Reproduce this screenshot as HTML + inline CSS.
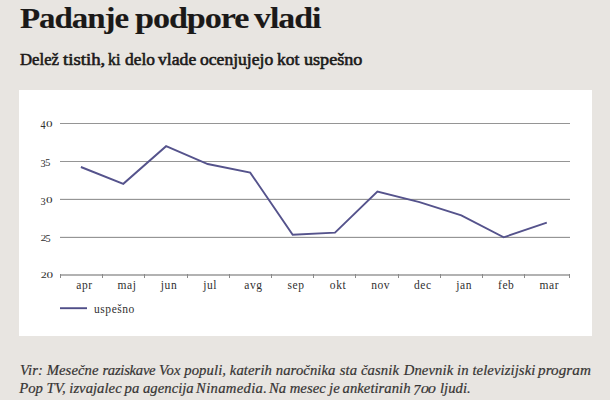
<!DOCTYPE html>
<html lang="sl">
<head>
<meta charset="utf-8">
<title>Padanje podpore vladi</title>
<style>
  html, body { margin: 0; padding: 0; }
  body {
    width: 610px; height: 400px; overflow: hidden; position: relative;
    background: #e8e5e1;
    font-family: "Liberation Serif", "DejaVu Serif", serif;
    color: #1c1a1a;
  }
  .t { position: absolute; white-space: nowrap; line-height: 1; margin: 0; }
  h1 { margin: 0; font-size: 32px; font-weight: 700; color: #1b1918; }
  h1 span { position: absolute; top: 0.8px; letter-spacing: -1px; line-height: 1; white-space: nowrap; transform-origin: 0 26.8px; -webkit-text-stroke: 0.15px #1b1918; }
  h2 { margin: 0; font-size: 17.5px; font-weight: 400; color: #1b1918; }
  h2 span { position: absolute; top: 51px; line-height: 1; white-space: nowrap; transform-origin: 0 14.6px; -webkit-text-stroke: 0.6px #1b1918; }
  .panel { position: absolute; left: 19px; top: 90px; width: 573px; height: 246px; background: #fff; }
  .foot { position: absolute; left: 20px; line-height: 1; white-space: nowrap; font-size: 14.7px; font-style: italic; color: #363433; -webkit-text-stroke: 0.2px #363433; }
  .os7 { position: relative; top: 1.8px; }
  .os0 { display: inline-block; transform: scale(1.08, 0.74); transform-origin: 50% 83.75%; }
  svg { position: absolute; left: 0; top: 0; }
  svg text { font-family: "Liberation Serif", "DejaVu Serif", serif; fill: #303030; }
</style>
</head>
<body>
<h1><span style="left:20.1px; transform:scale(1.03,0.92)">Padanje</span> <span style="left:134.8px; transform:scale(1.067,0.92)">podpore</span> <span style="left:254.3px; transform:scale(1.059,0.92)">vladi</span></h1>
<h2><span style="left:20.20px; transform:scale(0.956,0.9)">Delež</span> <span style="left:63.00px; transform:scale(1.072,0.9)">tistih,</span> <span style="left:107.90px; transform:scale(0.921,0.9)">ki</span> <span style="left:125.00px; transform:scale(0.993,0.9)">delo</span> <span style="left:157.50px; transform:scale(1.011,0.9)">vlade</span> <span style="left:199.50px; transform:scale(1.004,0.9)">ocenjujejo</span> <span style="left:276.80px; transform:scale(1.004,0.9)">kot</span> <span style="left:303.50px; transform:scale(1.036,0.9)">uspešno</span></h2>
<div class="panel"></div>
<svg width="610" height="400" viewBox="0 0 610 400">
  <g fill="#ededed">
    <rect x="60" y="198" width="510" height="1"/>
    <rect x="60" y="236" width="510" height="1"/>
  </g>
  <g fill="#959595">
    <rect x="60" y="123" width="510" height="1"/>
    <rect x="60" y="161" width="510" height="1"/>
    <rect x="60" y="199" width="510" height="1"/>
    <rect x="60" y="237" width="510" height="1"/>
  </g>
  <rect x="60" y="274" width="510" height="2" fill="#b2b2b2"/>
  <g stroke="#8a8a8a" stroke-width="1" shape-rendering="crispEdges">
    <line x1="60.5" y1="274" x2="60.5" y2="278"/>
    <line x1="102.5" y1="274" x2="102.5" y2="278"/>
    <line x1="144.5" y1="274" x2="144.5" y2="278"/>
    <line x1="187.5" y1="274" x2="187.5" y2="278"/>
    <line x1="229.5" y1="274" x2="229.5" y2="278"/>
    <line x1="271.5" y1="274" x2="271.5" y2="278"/>
    <line x1="313.5" y1="274" x2="313.5" y2="278"/>
    <line x1="355.5" y1="274" x2="355.5" y2="278"/>
    <line x1="398.5" y1="274" x2="398.5" y2="278"/>
    <line x1="440.5" y1="274" x2="440.5" y2="278"/>
    <line x1="482.5" y1="274" x2="482.5" y2="278"/>
    <line x1="524.5" y1="274" x2="524.5" y2="278"/>
    <line x1="569.5" y1="274" x2="569.5" y2="278"/>
  </g>
  <polyline fill="none" stroke="#55538c" stroke-width="1.9" stroke-linejoin="miter" points="80.9,167.0 123.3,183.8 166.1,146.2 207.7,164.0 250.2,172.6 292.7,234.8 335.0,232.6 377.4,191.5 419.5,202.1 461.3,215.4 503.7,237.3 546.8,222.6"/>
  <line x1="60" y1="308.2" x2="87" y2="308.2" stroke="#4f4e88" stroke-width="1.9"/>
  <g font-size="12">
    <text transform="translate(40.60,128.90) scale(0.85,0.99)">4</text>
    <text transform="translate(46.10,126.90) scale(1.1,0.72)">0</text>
    <text transform="translate(40.50,166.60) scale(0.86,0.94)">3</text>
    <text transform="translate(45.21,166.40) scale(0.85,0.93)">5</text>
    <text transform="translate(40.50,204.50) scale(0.86,0.94)">3</text>
    <text transform="translate(45.90,202.70) scale(1.1,0.72)">0</text>
    <text transform="translate(40.47,240.60) scale(1.0,0.72)">2</text>
    <text transform="translate(45.61,242.20) scale(0.85,0.93)">5</text>
    <text transform="translate(40.67,278.30) scale(1.0,0.72)">2</text>
    <text transform="translate(46.50,278.30) scale(1.1,0.72)">0</text>
  </g>
  <g font-size="11.5" text-anchor="middle" letter-spacing="0.6">
    <text x="84.5" y="288.6">apr</text>
    <text x="127.0" y="288.6">maj</text>
    <text x="169.0" y="288.6">jun</text>
    <text x="210.2" y="288.6">jul</text>
    <text x="253.5" y="288.6">avg</text>
    <text x="296.0" y="288.6">sep</text>
    <text x="338.1" y="288.6">okt</text>
    <text x="380.7" y="288.6">nov</text>
    <text x="422.8" y="288.6">dec</text>
    <text x="464.2" y="288.6">jan</text>
    <text x="506.2" y="288.6">feb</text>
    <text x="549.3" y="288.6">mar</text>
  </g>
  <text x="94" y="313" font-size="11.5" letter-spacing="0.55">uspešno</text>
</svg>
<div class="foot" style="top:362.5px; letter-spacing:0.085px"><span style="position:relative; left:0.0px;">Vir: Mesečne</span> <span style="position:relative; left:0.0px; letter-spacing:-0.28px;">raziskave</span> <span style="position:relative; left:-0.1px;">Vox populi, katerih naročnika</span> <span style="position:relative; left:0.4px;">sta časnik</span> <span style="position:relative; left:1.4px;">Dnevnik in televizijski</span> <span style="position:relative; left:0.6px; display:inline-block; transform:scaleX(1.03); transform-origin:0 0;">program</span></div>
<div class="foot" style="top:381px; letter-spacing:0.02px"><span style="position:relative; left:-0.8px;">Pop TV, izvajalec</span> <span style="position:relative; left:-1.6px;">pa agencija</span> <span style="position:relative; left:-3.0px; letter-spacing:0.3px;">Ninamedia.</span> <span style="position:relative; left:-5.0px;">Na mesec</span> <span style="position:relative; left:-5.4px;">je</span> <span style="position:relative; left:-6.2px;">anketiranih</span> <span style="position:relative; left:-7.2px;"><span class="os7">7</span><span class="os0">0</span><span class="os0">0</span></span> <span style="position:relative; left:-6.3px;">ljudi.</span></div>
</body>
</html>
